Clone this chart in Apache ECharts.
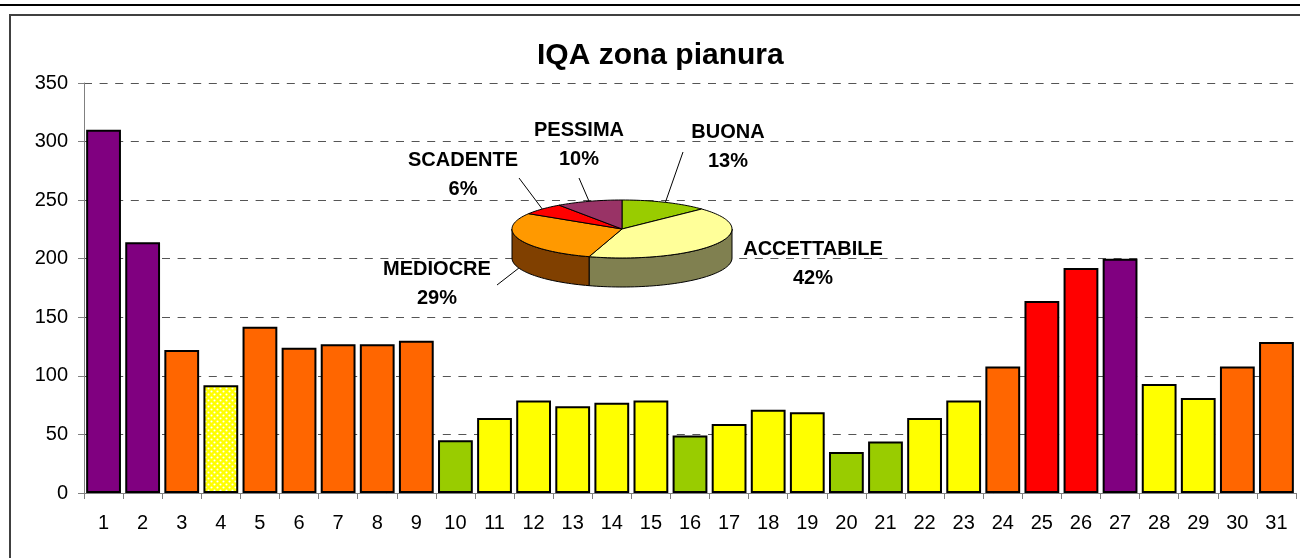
<!DOCTYPE html>
<html>
<head>
<meta charset="utf-8">
<title>IQA zona pianura</title>
<script src="https://cdn.jsdelivr.net/npm/echarts@6/dist/echarts.min.js"></script>
<style>
  html, body { margin: 0; padding: 0; background: #fff; }
  #chart { width: 1300px; height: 558px; }
</style>
</head>
<body>
<div id="chart"></div>
<script>
// giorni del mese
var days = ['1','2','3','4','5','6','7','8','9','10','11','12','13','14','15','16',
            '17','18','19','20','21','22','23','24','25','26','27','28','29','30','31'];
// valore IQA giornaliero
var iqaValues = [310, 214, 122, 92, 142, 124, 127, 127, 130, 45, 64, 79, 74, 77, 79, 49,
                 59, 71, 69, 35, 44, 64, 79, 108, 164, 192, 200, 93, 81, 108, 129];
// classe di qualita' di ogni giorno
var dayClass = ['PESSIMA','PESSIMA','MEDIOCRE','ACCETTABILE','MEDIOCRE','MEDIOCRE','MEDIOCRE','MEDIOCRE',
                'MEDIOCRE','BUONA','ACCETTABILE','ACCETTABILE','ACCETTABILE','ACCETTABILE','ACCETTABILE','BUONA',
                'ACCETTABILE','ACCETTABILE','ACCETTABILE','BUONA','BUONA','ACCETTABILE','ACCETTABILE','MEDIOCRE',
                'SCADENTE','SCADENTE','PESSIMA','ACCETTABILE','ACCETTABILE','MEDIOCRE','MEDIOCRE'];
// giorni con barra puntinata
var dottedDays = ['4'];
// torta: numero di giorni per classe
var pieNames = ['BUONA', 'ACCETTABILE', 'MEDIOCRE', 'SCADENTE', 'PESSIMA'];
var pieCounts = [4, 13, 9, 2, 3];

var FONT = '"Liberation Sans", Arial, sans-serif';

var barColor = {
  BUONA: '#99CC00', ACCETTABILE: '#FFFF00', MEDIOCRE: '#FF6600', SCADENTE: '#FF0000', PESSIMA: '#800080'
};
var pieTop = ['#99CC00', '#FFFF99', '#FF9900', '#FF0000', '#993366'];
var pieWall = ['#4D6600', '#808050', '#804000', '#800000', '#4D1A33'];

// pattern giallo a puntini bianchi
var dots = document.createElement('canvas');
dots.width = 6; dots.height = 6;
var dc = dots.getContext('2d');
dc.fillStyle = '#FFFF00';
dc.fillRect(0, 0, 6, 6);
dc.fillStyle = '#FFFFFF';
dc.beginPath(); dc.arc(1.5, 1.5, 1.05, 0, Math.PI * 2); dc.fill();
dc.beginPath(); dc.arc(4.5, 4.5, 1.05, 0, Math.PI * 2); dc.fill();

var barData = iqaValues.map(function (v, i) {
  var col = dottedDays.indexOf(days[i]) >= 0 ? { image: dots, repeat: 'repeat' } : barColor[dayClass[i]];
  return { value: v, itemStyle: { color: col } };
});

// geometria della torta 3D (ellisse)
var PIE = { cx: 622, cy: 229, rx: 110, ry: 29, depth: 29 };
// posizione etichette e fine linea guida (rispetto al centro della torta)
var labelPos = [[106, -82], [191, 35], [-185, 55], [-159, -54], [-43, -84]];
var leaderEnd = [[61, -77], null, [-125, 56], [-103, -51], [-43, -51]];

var pieTotal = pieCounts.reduce(function (a, b) { return a + b; }, 0);
var pieStart = [];
(function () {
  var acc = 0;
  pieCounts.forEach(function (c) { pieStart.push(acc / pieTotal * 360); acc += c; });
})();

function rimPoint(deg, drop) {
  var r = deg * Math.PI / 180;
  return [PIE.cx + PIE.rx * Math.sin(r), PIE.cy - PIE.ry * Math.cos(r) + (drop || 0)];
}
function arcPoints(a0, a1, drop) {
  var pts = [];
  var n = Math.max(2, Math.ceil((a1 - a0) / 2));
  for (var k = 0; k <= n; k++) pts.push(rimPoint(a0 + (a1 - a0) * k / n, drop));
  return pts;
}

function renderSlice(params, api) {
  var i = params.dataIndex;
  var a0 = pieStart[i];
  var a1 = a0 + api.value(0) / pieTotal * 360;
  var children = [];

  // parete laterale visibile (meta' anteriore)
  var w0 = Math.max(a0, 90), w1 = Math.min(a1, 270);
  if (w1 > w0) {
    var up = arcPoints(w0, w1, 0);
    var down = arcPoints(w0, w1, PIE.depth).reverse();
    children.push({
      type: 'polygon', z2: 1,
      shape: { points: up.concat(down) },
      style: { fill: pieWall[i], stroke: '#000', lineWidth: 1 }
    });
  }
  // faccia superiore
  children.push({
    type: 'polygon', z2: 2,
    shape: { points: [[PIE.cx, PIE.cy]].concat(arcPoints(a0, a1, 0)) },
    style: { fill: pieTop[i], stroke: '#000', lineWidth: 1 }
  });
  // linea guida
  if (leaderEnd[i]) {
    var mid = (a0 + a1) / 2;
    var lower = mid > 90 && mid < 270;
    var p = rimPoint(mid, lower ? PIE.depth : 0);
    children.push({
      type: 'polyline', z2: 3,
      shape: { points: [p, [PIE.cx + leaderEnd[i][0], PIE.cy + leaderEnd[i][1]]] },
      style: { stroke: '#000', lineWidth: 1, fill: null }
    });
  }
  // etichetta
  var pct = Math.round(api.value(0) / pieTotal * 100);
  children.push({
    type: 'text', z2: 4,
    style: {
      text: pieNames[i] + '\n' + pct + '%',
      x: PIE.cx + labelPos[i][0], y: PIE.cy + labelPos[i][1],
      align: 'center', verticalAlign: 'middle',
      textAlign: 'center', textVerticalAlign: 'middle',
      font: 'bold 20px ' + FONT, lineHeight: 29, fill: '#000'
    }
  });
  return { type: 'group', children: children };
}

var chart = echarts.init(document.getElementById('chart'), null, { renderer: 'canvas' });

var option = {
  backgroundColor: '#fff',
  animation: false,
  title: {
    text: 'IQA zona pianura',
    left: 537, top: 41, padding: 0,
    textStyle: { fontFamily: FONT, fontSize: 30, fontWeight: 'bold', color: '#000' }
  },
  grid: { left: 84, right: 4, top: 83, bottom: 65, containLabel: false },
  xAxis: {
    type: 'category',
    data: days,
    axisLine: { lineStyle: { color: '#808080', width: 1 } },
    axisTick: { show: true, length: 6, lineStyle: { color: '#808080' } },
    axisLabel: { color: '#000', fontFamily: FONT, fontSize: 20, margin: 20, interval: 0 },
    splitLine: { show: false }
  },
  yAxis: {
    type: 'value',
    min: 0, max: 350, interval: 50,
    axisLine: { show: true, lineStyle: { color: '#808080', width: 1 } },
    axisTick: { show: true, length: 6, lineStyle: { color: '#808080' } },
    axisLabel: { color: '#000', fontFamily: FONT, fontSize: 20, margin: 16 },
    splitLine: { show: true, lineStyle: { color: '#555', type: [8, 7.6], width: 1 } }
  },
  graphic: [
    { type: 'line', shape: { x1: 0, y1: 5, x2: 1300, y2: 5 }, style: { stroke: '#000', lineWidth: 2 } },
    { type: 'polyline', shape: { points: [[10, 558], [10, 15], [1300, 15]] },
      style: { stroke: '#404040', lineWidth: 2, fill: null } }
  ],
  series: [
    {
      type: 'bar',
      data: barData,
      barCategoryGap: '11%',
      itemStyle: { borderColor: '#000', borderWidth: 2 }
    },
    {
      type: 'custom',
      coordinateSystem: 'none',
      z: 10,
      renderItem: renderSlice,
      data: pieCounts
    }
  ]
};

chart.setOption(option);
</script>
</body>
</html>
